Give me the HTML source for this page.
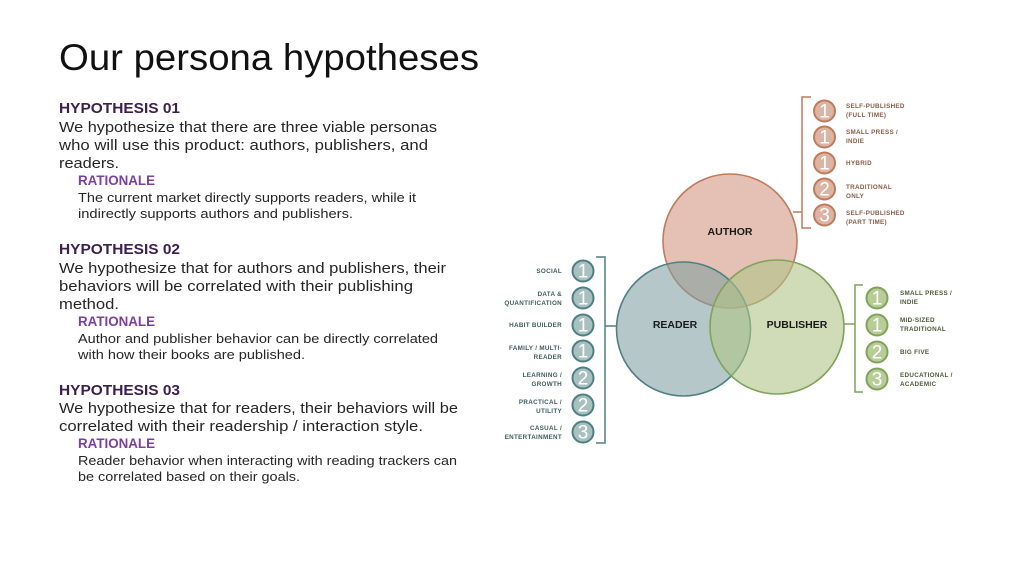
<!DOCTYPE html>
<html><head><meta charset="utf-8">
<style>
html,body{margin:0;padding:0;background:#fff;}
body{width:1024px;height:576px;overflow:hidden;}
svg{display:block;}
.h{font-family:"Liberation Sans",sans-serif;font-weight:bold;fill:#3b1f4f;font-size:15px;}
.b{font-family:"Liberation Sans",sans-serif;fill:#262626;font-size:15px;}
.r{font-family:"Liberation Sans",sans-serif;font-weight:bold;fill:#7b3fa3;font-size:13.5px;}
.rb{font-family:"Liberation Sans",sans-serif;fill:#262626;font-size:13px;}
.sa{font-family:"Liberation Sans",sans-serif;font-weight:bold;fill:#8a5a48;font-size:6.3px;letter-spacing:0.3px;}
.sr{font-family:"Liberation Sans",sans-serif;font-weight:bold;fill:#3f5c5e;font-size:6.3px;letter-spacing:0.3px;}
.sp{font-family:"Liberation Sans",sans-serif;font-weight:bold;fill:#4c5a38;font-size:6.3px;letter-spacing:0.3px;}
.n{font-family:"Liberation Sans",sans-serif;fill:#fff;font-size:19px;text-anchor:middle;}
.v{font-family:"Liberation Sans",sans-serif;font-weight:bold;fill:#1a1a1a;font-size:10.5px;text-anchor:middle;}
</style></head>
<body>
<svg width="1024" height="576" viewBox="0 0 1024 576" xmlns="http://www.w3.org/2000/svg">
<text x="59" y="70" font-family="Liberation Sans, sans-serif" font-size="37" fill="#111" textLength="420" lengthAdjust="spacingAndGlyphs">Our persona hypotheses</text>

<text class="h" x="59" y="113" textLength="121" lengthAdjust="spacingAndGlyphs">HYPOTHESIS 01</text>
<text class="b" x="59" y="132" textLength="378" lengthAdjust="spacingAndGlyphs">We hypothesize that there are three viable personas</text>
<text class="b" x="59" y="150" textLength="369" lengthAdjust="spacingAndGlyphs">who will use this product: authors, publishers, and</text>
<text class="b" x="59" y="168" textLength="60" lengthAdjust="spacingAndGlyphs">readers.</text>
<text class="r" x="78" y="185" textLength="77" lengthAdjust="spacingAndGlyphs">RATIONALE</text>
<text class="rb" x="78" y="202" textLength="338" lengthAdjust="spacingAndGlyphs">The current market directly supports readers, while it</text>
<text class="rb" x="78" y="218" textLength="275" lengthAdjust="spacingAndGlyphs">indirectly supports authors and publishers.</text>

<text class="h" x="59" y="254" textLength="121" lengthAdjust="spacingAndGlyphs">HYPOTHESIS 02</text>
<text class="b" x="59" y="273" textLength="387" lengthAdjust="spacingAndGlyphs">We hypothesize that for authors and publishers, their</text>
<text class="b" x="59" y="291" textLength="354" lengthAdjust="spacingAndGlyphs">behaviors will be correlated with their publishing</text>
<text class="b" x="59" y="309" textLength="60" lengthAdjust="spacingAndGlyphs">method.</text>
<text class="r" x="78" y="326" textLength="77" lengthAdjust="spacingAndGlyphs">RATIONALE</text>
<text class="rb" x="78" y="343" textLength="360" lengthAdjust="spacingAndGlyphs">Author and publisher behavior can be directly correlated</text>
<text class="rb" x="78" y="359" textLength="227" lengthAdjust="spacingAndGlyphs">with how their books are published.</text>

<text class="h" x="59" y="395" textLength="121" lengthAdjust="spacingAndGlyphs">HYPOTHESIS 03</text>
<text class="b" x="59" y="413" textLength="399" lengthAdjust="spacingAndGlyphs">We hypothesize that for readers, their behaviors will be</text>
<text class="b" x="59" y="431" textLength="364" lengthAdjust="spacingAndGlyphs">correlated with their readership / interaction style.</text>
<text class="r" x="78" y="448" textLength="77" lengthAdjust="spacingAndGlyphs">RATIONALE</text>
<text class="rb" x="78" y="465" textLength="379" lengthAdjust="spacingAndGlyphs">Reader behavior when interacting with reading trackers can</text>
<text class="rb" x="78" y="481" textLength="222" lengthAdjust="spacingAndGlyphs">be correlated based on their goals.</text>

<!-- Venn -->
<circle cx="730" cy="241" r="67" fill="rgb(210,152,130)" fill-opacity="0.6" stroke="#c07a5c" stroke-width="1.6"/>
<circle cx="683.5" cy="329" r="67" fill="rgb(127,158,160)" fill-opacity="0.58" stroke="#4e7f82" stroke-width="1.6"/>
<circle cx="777" cy="327" r="67" fill="rgb(175,196,135)" fill-opacity="0.6" stroke="#7fa35a" stroke-width="1.6"/>
<text class="v" x="730" y="235">AUTHOR</text>
<text class="v" x="675" y="328">READER</text>
<text class="v" x="797" y="328">PUBLISHER</text>

<!-- Author bracket -->
<path d="M811 97 H802 V228 H811 M802 212 H793" fill="none" stroke="#c07a5c" stroke-width="1.5"/>
<g stroke="#c07a5c" stroke-width="2" fill="#dcb4a4">
<circle cx="824.5" cy="111" r="10.5"/><circle cx="824.5" cy="137" r="10.5"/><circle cx="824.5" cy="163" r="10.5"/><circle cx="824.5" cy="189" r="10.5"/><circle cx="824.5" cy="215" r="10.5"/>
</g>
<text class="n" x="824.5" y="117.5">1</text><text class="n" x="824.5" y="143.5">1</text><text class="n" x="824.5" y="169.5">1</text><text class="n" x="824.5" y="195.5">2</text><text class="n" x="824.5" y="221.5">3</text>
<text class="sa" x="846" y="108">SELF-PUBLISHED</text><text class="sa" x="846" y="117">(FULL TIME)</text>
<text class="sa" x="846" y="134">SMALL PRESS /</text><text class="sa" x="846" y="143">INDIE</text>
<text class="sa" x="846" y="165">HYBRID</text>
<text class="sa" x="846" y="189">TRADITIONAL</text><text class="sa" x="846" y="198">ONLY</text>
<text class="sa" x="846" y="215">SELF-PUBLISHED</text><text class="sa" x="846" y="224">(PART TIME)</text>

<!-- Reader bracket -->
<path d="M596 257 H605 V443 H596 M605 326 H616" fill="none" stroke="#4e7f82" stroke-width="1.5"/>
<g stroke="#4e7f82" stroke-width="2" fill="#a9c0c1">
<circle cx="583" cy="271" r="10.5"/><circle cx="583" cy="298" r="10.5"/><circle cx="583" cy="325" r="10.5"/><circle cx="583" cy="351" r="10.5"/><circle cx="583" cy="378" r="10.5"/><circle cx="583" cy="405" r="10.5"/><circle cx="583" cy="432" r="10.5"/>
</g>
<text class="n" x="583" y="277.5">1</text><text class="n" x="583" y="304.5">1</text><text class="n" x="583" y="331.5">1</text><text class="n" x="583" y="357.5">1</text><text class="n" x="583" y="384.5">2</text><text class="n" x="583" y="411.5">2</text><text class="n" x="583" y="438.5">3</text>
<g text-anchor="end">
<text class="sr" x="562" y="273">SOCIAL</text>
<text class="sr" x="562" y="296">DATA &amp;</text><text class="sr" x="562" y="305">QUANTIFICATION</text>
<text class="sr" x="562" y="327">HABIT BUILDER</text>
<text class="sr" x="562" y="350">FAMILY / MULTI-</text><text class="sr" x="562" y="359">READER</text>
<text class="sr" x="562" y="377">LEARNING /</text><text class="sr" x="562" y="386">GROWTH</text>
<text class="sr" x="562" y="404">PRACTICAL /</text><text class="sr" x="562" y="413">UTILITY</text>
<text class="sr" x="562" y="430">CASUAL /</text><text class="sr" x="562" y="439">ENTERTAINMENT</text>
</g>

<!-- Publisher bracket -->
<path d="M863 285 H855 V392 H863 M855 324 H844" fill="none" stroke="#7fa35a" stroke-width="1.5"/>
<g stroke="#7fa35a" stroke-width="2" fill="#b8cc98">
<circle cx="877" cy="298" r="10.5"/><circle cx="877" cy="325" r="10.5"/><circle cx="877" cy="352" r="10.5"/><circle cx="877" cy="379" r="10.5"/>
</g>
<text class="n" x="877" y="304.5">1</text><text class="n" x="877" y="331.5">1</text><text class="n" x="877" y="358.5">2</text><text class="n" x="877" y="385.5">3</text>
<text class="sp" x="900" y="295">SMALL PRESS /</text><text class="sp" x="900" y="304">INDIE</text>
<text class="sp" x="900" y="322">MID-SIZED</text><text class="sp" x="900" y="331">TRADITIONAL</text>
<text class="sp" x="900" y="354">BIG FIVE</text>
<text class="sp" x="900" y="377">EDUCATIONAL /</text><text class="sp" x="900" y="386">ACADEMIC</text>
</svg>
</body></html>
